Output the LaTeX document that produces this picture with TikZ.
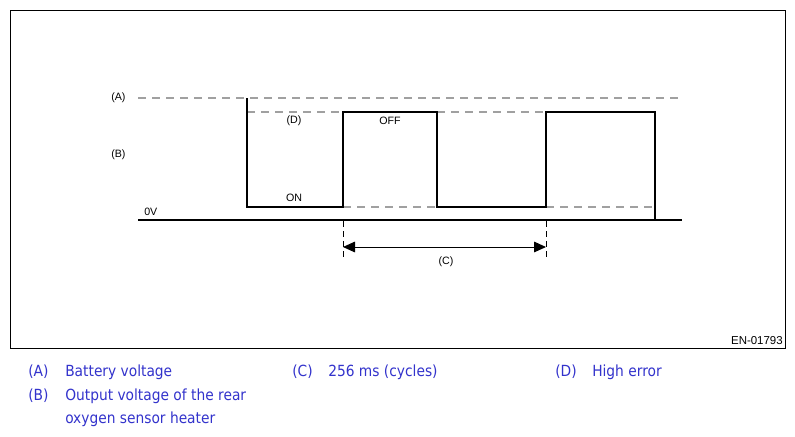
\documentclass[tikz,border=0pt]{standalone}
\usepackage{fontspec}
\setmainfont{Liberation Sans}
\newfontfamily\legfont{DejaVu Sans Condensed}
\usetikzlibrary{arrows.meta}
\definecolor{leg}{HTML}{3333CC}
\definecolor{dashgray}{HTML}{A0A0A0}
\begin{document}
\begin{tikzpicture}[x=0.75pt,y=-0.75pt,
  lbl/.style={font=\fontsize{8pt}{9.5pt}\selectfont,inner sep=0pt},
  legtxt/.style={font=\legfont\fontsize{11.5pt}{13pt}\selectfont,text=leg,anchor=west,inner sep=0pt},
  refline/.style={dashgray,dash pattern=on 6pt off 4.5pt,line width=0.9pt},
  wave/.style={black,line width=1.7pt},
  axis/.style={black,line width=0.9pt},
  tick/.style={black,dash pattern=on 4.5pt off 3pt,line width=0.75pt}]
\useasboundingbox (0,0) rectangle (795,436);
\fill[white] (0,0) rectangle (795,436);
\draw[line width=0.75pt] (10,10) rectangle (785,348);
% reference coordinates
\coordinate (aL) at (138,98);
\coordinate (aR) at (678,98);
\coordinate (zL) at (138,220);
\coordinate (zR) at (682,220);
\coordinate (w0) at (247,98);
\coordinate (w1) at (247,207);
\coordinate (w2) at (343,207);
\coordinate (w3) at (343,112);
\coordinate (w4) at (437,112);
\coordinate (w5) at (437,207);
\coordinate (w6) at (546,207);
\coordinate (w7) at (546,112);
\coordinate (w8) at (655,112);
\coordinate (w9) at (655,220);
\coordinate (d1) at (652,207);
\coordinate (c1t) at (343,221);
\coordinate (c1b) at (343,261);
\coordinate (c2t) at (546,221);
\coordinate (c2b) at (546,261);
\coordinate (c1) at (343,247);
\coordinate (c2) at (546,247);
% dashed references
\draw[refline] (aL) -- (aR);
\draw[refline] (w0 |- w3) -- (w3);
\draw[refline] (w4) -- (w7);
\draw[refline] (w2) -- (w5);
\draw[refline] (w6) -- (d1);
% 0V axis
\draw[axis] (zL) -- (zR);
% waveform
\draw[wave,line join=miter] (w0) -- (w1) -- (w2) -- (w3) -- (w4) -- (w5) -- (w6) -- (w7) -- (w8) -- (w9);
% period marker
\draw[tick] (c1t) -- (c1b);
\draw[tick] (c2t) -- (c2b);
\draw[line width=0.75pt,{Triangle[length=9pt,width=8pt]}-{Triangle[length=9pt,width=8pt]}] (c1) -- (c2);
% labels
\node[lbl,anchor=west] (lA) at (111,98) {(A)};
\node[lbl,anchor=west] (lB) at (111,155) {(B)};
\node[lbl,anchor=west] (l0) at (144,212) {0V};
\node[lbl] (lD) at (294,121) {(D)};
\node[lbl] (lOFF) at (390,121) {OFF};
\node[lbl] (lON) at (294,198) {ON};
\node[lbl] (lC) at (446,262) {(C)};
\node[lbl,anchor=east,font=\fontsize{8.6pt}{10pt}\selectfont] (en) at (783,341) {EN-01793};
% legend
\node[legtxt] (kA) at (28,372) {(A)};
\node[legtxt] (vA) at (65,372) {Battery voltage};
\node[legtxt] (kC) at (292,372) {(C)};
\node[legtxt] (vC) at (328,372) {256 ms (cycles)};
\node[legtxt] (kD) at (555,372) {(D)};
\node[legtxt] (vD) at (592,372) {High error};
\node[legtxt] (kB) at (28,396) {(B)};
\node[legtxt] (vB) at (65,396) {Output voltage of the rear};
\node[legtxt] (vB2) at (65,419) {oxygen sensor heater};
\end{tikzpicture}
\end{document}
